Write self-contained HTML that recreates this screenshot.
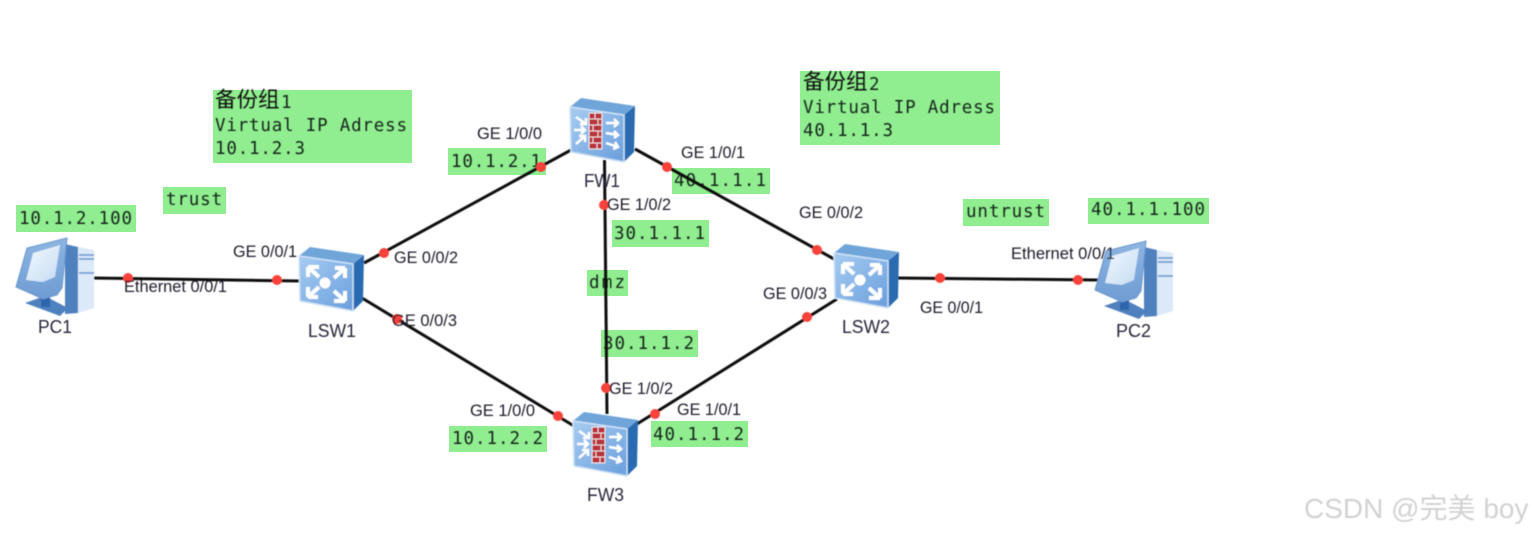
<!DOCTYPE html>
<html lang="zh">
<head>
<meta charset="utf-8">
<title>Network topology</title>
<style>
html,body{margin:0;padding:0;background:#fff;width:1531px;height:534px;overflow:hidden}
svg{display:block}
.l{font-family:"Liberation Sans",sans-serif;font-size:17px;fill:#1f1f2a}
.n{font-family:"Liberation Sans",sans-serif;font-size:18px;fill:#26263a}
.m{font-family:"DejaVu Sans Mono",monospace;font-size:17.5px;fill:#17261c}
.c{font-family:"Liberation Sans","Noto Sans CJK SC",sans-serif;font-size:21.5px;fill:#111}
.w{font-family:"Liberation Sans","Noto Sans CJK SC",sans-serif;font-size:28px;fill:#d2d2d2}
.g{fill:#90ee90}
.d{fill:#f8433b}
.ln{stroke:#111;stroke-width:3;fill:none}
</style>
</head>
<body>
<svg width="1531" height="534" viewBox="0 0 1531 534" xmlns="http://www.w3.org/2000/svg">
<defs>
<linearGradient id="fr" x1="0" y1="0" x2="1" y2="1"><stop offset="0" stop-color="#a6ccf2"/><stop offset="1" stop-color="#6a9fdc"/></linearGradient>
<linearGradient id="mon" x1="0" y1="0" x2="0" y2="1"><stop offset="0" stop-color="#8db5e2"/><stop offset="1" stop-color="#6f9cd3"/></linearGradient>
<linearGradient id="scr" x1="0" y1="0" x2="1" y2="1"><stop offset="0" stop-color="#f4f9fe"/><stop offset="1" stop-color="#c4dbf2"/></linearGradient>
<filter id="b" x="-5%" y="-5%" width="110%" height="110%"><feGaussianBlur stdDeviation="0.45"/></filter>
<filter id="b2" x="-5%" y="-5%" width="110%" height="110%"><feGaussianBlur stdDeviation="0.6"/></filter>
<g id="box">
<polygon points="1,9 12,0 66,8 55,17" fill="#6fa5da"/>
<polygon points="55,17 66,8 65,54 55,64" fill="#2b6bb0"/>
<polygon points="1,9 55,17 55,64 2,54" fill="url(#fr)" stroke="#cfe2f6" stroke-width="1.5" stroke-linejoin="round"/>
</g>
<g id="sw">
<use href="#box"/>
<circle cx="27" cy="36" r="5.5" fill="#fff"/>
<g stroke="#fff" stroke-width="4" fill="none">
<path d="M10 18 L21 28 M10 18 h11 M10 18 v10" transform="translate(0,2)"/>
<path d="M45 20 L34 30 M45 20 h-10 M45 20 v10" transform="translate(2,1)"/>
<path d="M10 53 L21 43 M10 53 h10 M10 53 v-10" transform="translate(0,-3)"/>
<path d="M45 53 L34 43 M45 53 h-11 M45 53 v-10" transform="translate(2,1)"/>
</g>
</g>
<g id="fw">
<use href="#box"/>
<rect x="20" y="15" width="13" height="36" fill="#b8333a" stroke="#f2e6e6" stroke-width="1"/>
<g stroke="#f2d8d8" stroke-width="1"><path d="M20 21h13M20 27h13M20 33h13M20 39h13M20 45h13M26 15v6M29 21v6M24 27v6M29 33v6M24 39v6M28 45v6"/></g>
<g stroke="#fff" stroke-width="2.5" fill="none">
<path d="M7 19 L17 26 M17 20 v6 h-6"/>
<path d="M5 32 H16 M12 28 l4 4 -4 4"/>
<path d="M7 46 L16 38 M10 38 h6 v6"/>
<path d="M37 25 H49 M45 21 l4 4 -4 4"/>
<path d="M37 35 L49 37 M45 33 l4 4 -4 3"/>
<path d="M37 45 L49 49 M46 44 l3 5 -5 2"/>
</g>
</g>
<g id="pc">
<polygon points="63,9 79,12 79,70 63,75" fill="#dbe9f8"/>
<polygon points="50,6 63,9 63,75 50,76" fill="#4f81bf"/>
<path d="M64 17h15M64 21h15M64 35h15" stroke="#7ea6d6" stroke-width="2"/>
<polygon points="10,65 30,58 53,70 45,78" fill="#4f81bf"/>
<rect x="26" y="54" width="9" height="15" fill="#2f66ad"/>
<polygon points="1,49 12,10 52,0 47,50 42,57 28,61" fill="url(#mon)" stroke="#6a96cc" stroke-width="1"/>
<polygon points="11,42 18,15 45,7 40,39 28,44" fill="url(#scr)"/>
</g>
</defs>

<rect class="g" x="213" y="90" width="199" height="73"/>
<rect class="g" x="800" y="71" width="200" height="74"/>
<rect class="g" x="16" y="205" width="120" height="27"/>
<rect class="g" x="163" y="187" width="63" height="27"/>
<rect class="g" x="448" y="148" width="98" height="27"/>
<rect class="g" x="672" y="168" width="98" height="26"/>
<rect class="g" x="612" y="220" width="97" height="27"/>
<rect class="g" x="587" y="270" width="41" height="26"/>
<rect class="g" x="601" y="330" width="97" height="27"/>
<rect class="g" x="449" y="426" width="98" height="26"/>
<rect class="g" x="651" y="421" width="97" height="26"/>
<rect class="g" x="963" y="199" width="86" height="27"/>
<rect class="g" x="1088" y="198" width="121" height="26"/>

<g filter="url(#b)">
<text class="m" x="19" y="224" textLength="113">10.1.2.100</text>
<text class="m" x="166" y="205" textLength="56">trust</text>
<text class="m" x="451" y="167" textLength="90">10.1.2.1</text>
<text class="m" x="674" y="186" textLength="92">40.1.1.1</text>
<text class="m" x="614" y="239" textLength="91">30.1.1.1</text>
<text class="m" x="589" y="288" textLength="36">dmz</text>
<text class="m" x="603" y="349" textLength="91">30.1.1.2</text>
<text class="m" x="452" y="444" textLength="91">10.1.2.2</text>
<text class="m" x="653" y="440" textLength="91">40.1.1.2</text>
<text class="m" x="966" y="217" textLength="79">untrust</text>
<text class="m" x="1091" y="215" textLength="114">40.1.1.100</text>

<text class="c" x="215" y="107">备份组</text>
<text class="m" x="281" y="108">1</text>
<text class="m" x="215" y="131" textLength="192">Virtual IP Adress</text>
<text class="m" x="215" y="154" textLength="90">10.1.2.3</text>
<text class="c" x="803" y="89">备份组</text>
<text class="m" x="869" y="90">2</text>
<text class="m" x="803" y="113" textLength="192">Virtual IP Adress</text>
<text class="m" x="803" y="136" textLength="90">40.1.1.3</text>

<g class="ln">
<line x1="92" y1="278" x2="300" y2="281"/>
<line x1="364" y1="263" x2="571" y2="150"/>
<line x1="635" y1="149" x2="834" y2="259"/>
<line x1="604.5" y1="160" x2="607" y2="414"/>
<line x1="362" y1="298" x2="574" y2="426"/>
<line x1="637" y1="424" x2="837" y2="299"/>
<line x1="898" y1="278" x2="1098" y2="280"/>
</g>

<use href="#pc" x="15" y="238"/>
<use href="#pc" x="1094" y="241"/>
<use href="#sw" x="298" y="247"/>
<use href="#sw" x="833" y="244"/>
<use href="#fw" x="569" y="98"/>
<use href="#fw" x="572" y="412"/>

<g class="d">
<circle cx="128" cy="278" r="5"/>
<circle cx="277" cy="280" r="5"/>
<circle cx="384" cy="253" r="5"/>
<circle cx="397" cy="319" r="5"/>
<circle cx="541" cy="167" r="5"/>
<circle cx="667" cy="167" r="5"/>
<circle cx="604" cy="205" r="5"/>
<circle cx="606" cy="388" r="5"/>
<circle cx="558" cy="416" r="5"/>
<circle cx="655" cy="414" r="5"/>
<circle cx="817" cy="250" r="5"/>
<circle cx="807" cy="317" r="5"/>
<circle cx="940" cy="278" r="5"/>
<circle cx="1078" cy="280" r="5"/>
</g>

<text class="l" x="124" y="292" textLength="103" lengthAdjust="spacingAndGlyphs">Ethernet 0/0/1</text>
<text class="l" x="233" y="257" textLength="64" lengthAdjust="spacingAndGlyphs">GE 0/0/1</text>
<text class="n" x="38" y="333" textLength="34" lengthAdjust="spacingAndGlyphs">PC1</text>
<text class="n" x="308" y="337" textLength="48" lengthAdjust="spacingAndGlyphs">LSW1</text>
<text class="l" x="394" y="263" textLength="64" lengthAdjust="spacingAndGlyphs">GE 0/0/2</text>
<text class="l" x="392" y="326" textLength="65" lengthAdjust="spacingAndGlyphs">GE 0/0/3</text>
<text class="l" x="477" y="139" textLength="65" lengthAdjust="spacingAndGlyphs">GE 1/0/0</text>
<text class="n" x="584" y="187" textLength="36" lengthAdjust="spacingAndGlyphs">FW1</text>
<text class="l" x="607" y="210" textLength="64" lengthAdjust="spacingAndGlyphs">GE 1/0/2</text>
<text class="l" x="681" y="158" textLength="64" lengthAdjust="spacingAndGlyphs">GE 1/0/1</text>
<text class="l" x="799" y="218" textLength="64" lengthAdjust="spacingAndGlyphs">GE 0/0/2</text>
<text class="l" x="763" y="299" textLength="64" lengthAdjust="spacingAndGlyphs">GE 0/0/3</text>
<text class="n" x="842" y="333" textLength="48" lengthAdjust="spacingAndGlyphs">LSW2</text>
<text class="l" x="920" y="313" textLength="63" lengthAdjust="spacingAndGlyphs">GE 0/0/1</text>
<text class="l" x="1011" y="259" textLength="104" lengthAdjust="spacingAndGlyphs">Ethernet 0/0/1</text>
<text class="n" x="1116" y="337" textLength="35" lengthAdjust="spacingAndGlyphs">PC2</text>
<text class="l" x="470" y="416" textLength="65" lengthAdjust="spacingAndGlyphs">GE 1/0/0</text>
<text class="l" x="609" y="394" textLength="64" lengthAdjust="spacingAndGlyphs">GE 1/0/2</text>
<text class="l" x="677" y="415" textLength="64" lengthAdjust="spacingAndGlyphs">GE 1/0/1</text>
<text class="n" x="587" y="501" textLength="37" lengthAdjust="spacingAndGlyphs">FW3</text>
</g>

<text class="w" x="1304" y="518" filter="url(#b2)">CSDN @完美 boy</text>
</svg>
</body>
</html>
